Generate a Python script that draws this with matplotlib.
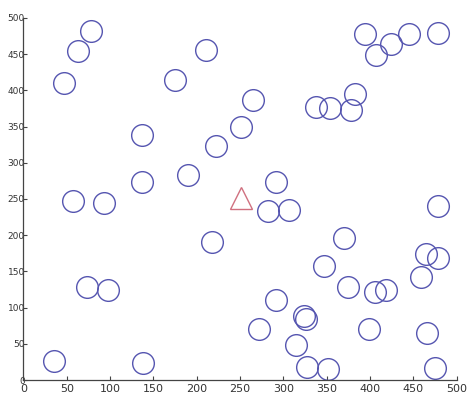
import numpy as np
import matplotlib
matplotlib.use("Agg")
import matplotlib.pyplot as plt

# circle positions (x, y)
circ_x = [77.7, 62.7, 47.3, 174.6, 210.4, 136.5, 221.9, 251.5, 137.3, 190.0,
          57.7, 93.4, 218.0, 73.1, 97.3, 35.8, 137.7,
          394.5, 406.8, 424.5, 445.2, 478.3, 264.6, 337.6, 353.7, 382.6, 377.6,
          291.5, 282.6, 306.8, 478.3, 370.3, 464.1, 478.7, 346.5, 458.4, 374.9,
          406.0, 418.3, 291.8, 324.0, 326.0, 272.2, 399.0, 466.0, 314.9, 326.9,
          351.8, 474.5]
circ_y = [482, 454, 410, 414, 456, 339, 323, 349, 273, 283,
          247, 244, 190, 128, 124, 27, 23,
          478, 449, 464, 478, 479, 387, 377, 376, 395, 373,
          274, 233, 235, 241, 196, 174, 169, 158, 142, 128,
          121, 125, 111, 88, 84, 70, 71, 65, 48, 18,
          16, 17]

# the single triangle
tri_x = [251.5]
tri_y = [252]

xticks = [0, 50, 100, 150, 200, 250, 300, 350, 400, 450, 500]
yticks = [0, 50, 100, 150, 200, 250, 300, 350, 400, 450, 500]

fig = plt.figure(figsize=(4.67, 3.98), dpi=100)
ax = fig.add_axes([0.05, 0.045, 0.928, 0.91])

ax.plot(circ_x, circ_y, 'o', markersize=15.6, markerfacecolor='none',
        markeredgecolor='#5555b0', markeredgewidth=1.0)
ax.plot(tri_x, tri_y, '^', markersize=16.5, markerfacecolor='none',
        markeredgecolor='#d0707f', markeredgewidth=1.0)

ax.set_xlim(0, 500)
ax.set_ylim(0, 500)
ax.set_xticks(xticks)
ax.set_yticks(yticks)

for s in ['top', 'right']:
    ax.spines[s].set_visible(False)
for s in ['left', 'bottom']:
    ax.spines[s].set_color('#444444')
    ax.spines[s].set_linewidth(0.9)

ax.tick_params(axis='both', direction='in', length=3, width=0.8, color='#444444')
ax.tick_params(axis='x', labelsize=8, pad=3, labelcolor='#333333')
ax.tick_params(axis='y', labelsize=6.5, pad=-1, labelcolor='#333333')

fig.savefig('out.png', dpi=100)
